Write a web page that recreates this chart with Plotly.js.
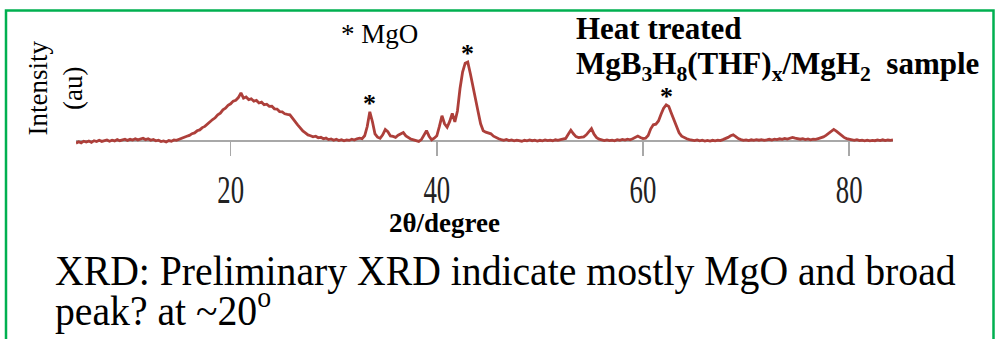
<!DOCTYPE html>
<html>
<head>
<meta charset="utf-8">
<script src="https://cdn.plot.ly/plotly-3.0.1.min.js"></script>
<style>
  html, body { margin: 0; padding: 0; background: #ffffff; }
  #chart { width: 995px; height: 339px; }
</style>
</head>
<body>
<div id="chart"></div>
<script>
// XRD scan of the heat treated MgB3H8(THF)x/MgH2 sample
// 2-theta scan: start angle and step (degrees)
const scanStart = 5.0;
const scanStep = 0.25;

// Intensity (a.u.), one value per step, 5.00 ... 84.25 deg
const intensity = [
  // 5.00 - 9.75
  68, 82, 71, 88, 79, 90, 76, 93, 84, 97, 86, 92, 101, 88, 98, 91, 104, 93, 99, 108,
  // 10.00 - 14.75
  96, 107, 99, 112, 101, 109, 118, 104, 113, 97, 105, 92, 98, 84, 91, 80, 94, 88, 101, 96,
  // 15.00 - 19.75
  108, 117, 126, 137, 146, 163, 171, 192, 201, 224, 236, 262, 278, 305, 322, 351, 368, 402, 418, 447,
  // 20.00 - 24.75
  462, 489, 498, 524, 572, 518, 530, 504, 512, 488, 496, 470, 478, 452, 458, 436, 438, 412, 409, 384,
  // 25.00 - 29.75
  381, 362, 356, 352, 318, 290, 252, 222, 190, 172, 151, 143, 132, 138, 122, 127, 112, 119, 104, 111,
  // 30.00 - 34.75
  98, 107, 95, 103, 92, 101, 96, 108, 99, 112, 118, 113, 142, 235, 382, 285, 162, 128, 117, 152,
  // 35.00 - 39.75
  204, 182, 141, 136, 127, 148, 162, 174, 141, 123, 108, 102, 91, 86, 104, 152, 193, 138, 102, 118,
  // 40.00 - 44.75
  142, 236, 342, 262, 228, 286, 366, 282, 390, 615, 780, 868, 880, 765, 625, 495, 385, 262, 192, 178,
  // 45.00 - 49.75
  168, 162, 138, 122, 112, 104, 97, 105, 94, 101, 92, 99, 95, 88, 97, 91, 100, 93, 98, 90,
  // 50.00 - 54.75
  97, 92, 101, 94, 99, 93, 102, 96, 104, 109, 116, 158, 198, 162, 134, 124, 129, 132, 152, 186,
  // 55.00 - 59.75
  214, 158, 124, 109, 102, 95, 101, 94, 99, 92, 103, 97, 106, 99, 108, 102, 112, 124, 139, 126,
  // 60.00 - 64.75
  114, 118, 146, 212, 252, 258, 290, 358, 418, 452, 436, 368, 296, 228, 172, 138, 121, 112, 104, 98,
  // 65.00 - 69.75
  94, 101, 92, 98, 90, 96, 89, 97, 92, 99, 94, 104, 112, 126, 142, 151, 134, 114, 104, 97,
  // 70.00 - 74.75
  101, 95, 102, 96, 104, 98, 103, 96, 101, 107, 100, 109, 104, 112, 106, 116, 110, 121, 126, 118,
  // 75.00 - 79.75
  113, 108, 114, 105, 110, 102, 109, 106, 114, 122, 131, 146, 166, 192, 206, 188, 166, 147, 126, 114,
  // 80.00 - 84.25
  107, 101, 96, 103, 94, 99, 92, 98, 91, 97, 93, 101, 95, 102, 94, 100, 96, 101
];

// MgO reflections marked with an asterisk: 2-theta and peak intensity
const mgoPeakAngle = [33.5, 43.0, 62.25];
const mgoPeakIntensity = [382, 880, 452];

const xTickValues = [20, 40, 60, 80];
const xTickLabels = ['20', '40', '60', '80'];

const serif = 'Liberation Serif, Times New Roman, serif';

// page geometry (px)
const W = 995, H = 339;
const M = { l: 76, r: 102, t: 30, b: 189 };
const plotW = W - M.l - M.r;
const plotH = H - M.t - M.b;
const px = x => (x - M.l) / plotW;
const py = y => (H - M.b - y) / plotH;

const trace = {
  type: 'scatter',
  mode: 'lines',
  x0: scanStart,
  dx: scanStep,
  y: intensity,
  line: { color: '#ad3f3a', width: 2.8 },
  hoverinfo: 'skip'
};

const annotations = [
  {
    text: 'Intensity<br>(au)', textangle: -90,
    xref: 'paper', yref: 'paper', x: px(54.5), y: py(88),
    xanchor: 'center', yanchor: 'middle', showarrow: false,
    font: { family: serif, size: 27, color: '#000' }
  },
  {
    text: '* MgO',
    xref: 'paper', yref: 'paper', x: px(339), y: py(34),
    xanchor: 'left', yanchor: 'middle', showarrow: false,
    font: { family: serif, size: 27, color: '#000' }
  },
  {
    text: '<b>Heat treated</b>',
    xref: 'paper', yref: 'paper', x: px(574), y: py(28.5),
    xanchor: 'left', yanchor: 'middle', showarrow: false,
    font: { family: serif, size: 31, color: '#000' }
  },
  {
    text: '<b>MgB<sub>3</sub>H<sub>8</sub>(THF)<sub>x</sub>/MgH<sub>2</sub>\u00a0\u00a0sample</b>',
    xref: 'paper', yref: 'paper', x: px(574), y: py(66),
    xanchor: 'left', yanchor: 'middle', showarrow: false,
    font: { family: serif, size: 31, color: '#000' }
  },
  {
    text: '<b>2θ/degree</b>',
    xref: 'paper', yref: 'paper', x: px(444), y: py(223),
    xanchor: 'center', yanchor: 'middle', showarrow: false,
    font: { family: serif, size: 27, color: '#000' }
  },
  {
    text: 'XRD: Preliminary XRD indicate mostly MgO and broad',
    xref: 'paper', yref: 'paper', x: px(53), y: py(271),
    xanchor: 'left', yanchor: 'middle', showarrow: false,
    font: { family: serif, size: 42, color: '#000' }
  },
  {
    text: 'peak? at ~20<sup>o</sup>',
    xref: 'paper', yref: 'paper', x: px(53), y: py(307.5),
    xanchor: 'left', yanchor: 'middle', showarrow: false,
    font: { family: serif, size: 42, color: '#000' }
  }
];

mgoPeakAngle.forEach((a, i) => {
  annotations.push({
    text: '<b>*</b>', x: a, y: mgoPeakIntensity[i], xref: 'x', yref: 'y',
    xanchor: 'center', yanchor: 'bottom', yshift: -8, showarrow: false,
    font: { family: serif, size: 26, color: '#000' }
  });
});

// green frame around the figure (open at the bottom)
const frame = {
  type: 'path', xref: 'paper', yref: 'paper',
  path: `M ${px(6)} ${py(360)} L ${px(6)} ${py(10.5)} L ${px(993.5)} ${py(10.5)} L ${px(993.5)} ${py(360)}`,
  line: { color: '#00b050', width: 2.5 }
};

const layout = {
  width: W, height: H,
  margin: M,
  paper_bgcolor: '#ffffff',
  plot_bgcolor: 'rgba(0,0,0,0)',
  showlegend: false,
  xaxis: {
    range: [5, 84.25],
    anchor: 'free', position: py(140),
    showline: true, linecolor: '#a8a8a8', linewidth: 1.5,
    ticks: 'outside', ticklen: 14, tickwidth: 1.5, tickcolor: '#a8a8a8',
    tickvals: xTickValues, ticktext: xTickLabels,
    tickfont: { family: serif, size: 40, color: '#222' },
    showgrid: false, zeroline: false, layer: 'below traces'
  },
  yaxis: {
    range: [0, 1200],
    visible: false, showgrid: false, zeroline: false
  },
  annotations: annotations,
  shapes: [frame]
};

// horizontal squeeze of a text element about a given x (local coordinates)
function squeeze(el, s, about) {
  const b = el.getBBox();
  const cx = about === 'left' ? b.x : b.x + b.width / 2;
  const prev = el.getAttribute('transform') || '';
  el.setAttribute('transform', `${prev} translate(${cx},0) scale(${s},1) translate(${-cx},0)`);
}

Plotly.newPlot('chart', [trace], layout, { displayModeBar: false, staticPlot: true }).then(gd => {
  // tick numbers and the caption are set in a narrow serif style
  gd.querySelectorAll('.xtick text').forEach(t => squeeze(t, 0.67, 'center'));
  [5, 6].forEach(i => {
    const t = gd.querySelector(`.annotation[data-index="${i}"] text`);
    if (t) squeeze(t, 0.945, 'left');
  });
});
</script>
</body>
</html>
